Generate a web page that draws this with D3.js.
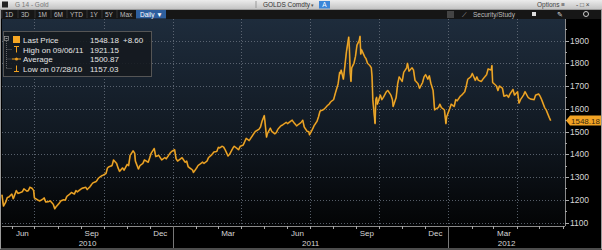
<!DOCTYPE html>
<html><head><meta charset="utf-8">
<script src="https://cdn.jsdelivr.net/npm/d3@7/dist/d3.min.js"></script>
<style>body{margin:0;background:#000;}svg{display:block;font-family:"Liberation Sans",Arial,sans-serif;}</style>
</head><body><svg id="c" width="602" height="250"></svg>
<script>
const dates = ["2010-05-19","2010-05-20","2010-05-21","2010-05-24","2010-05-26","2010-05-28","2010-06-01","2010-06-03","2010-06-07","2010-06-09","2010-06-11","2010-06-15","2010-06-17","2010-06-21","2010-06-23","2010-06-25","2010-06-28","2010-06-30","2010-07-01","2010-07-06","2010-07-08","2010-07-12","2010-07-14","2010-07-16","2010-07-20","2010-07-22","2010-07-26","2010-07-28","2010-07-30","2010-08-03","2010-08-05","2010-08-09","2010-08-11","2010-08-13","2010-08-17","2010-08-19","2010-08-23","2010-08-25","2010-08-27","2010-08-31","2010-09-02","2010-09-07","2010-09-09","2010-09-13","2010-09-15","2010-09-17","2010-09-21","2010-09-24","2010-09-28","2010-09-30","2010-10-04","2010-10-06","2010-10-08","2010-10-12","2010-10-14","2010-10-18","2010-10-20","2010-10-22","2010-10-26","2010-10-28","2010-11-01","2010-11-03","2010-11-05","2010-11-09","2010-11-11","2010-11-12","2010-11-16","2010-11-18","2010-11-22","2010-11-24","2010-11-29","2010-12-01","2010-12-03","2010-12-07","2010-12-09","2010-12-13","2010-12-15","2010-12-17","2010-12-21","2010-12-23","2010-12-28","2010-12-30",
"2011-01-03","2011-01-05","2011-01-07","2011-01-11","2011-01-13","2011-01-17","2011-01-19","2011-01-21","2011-01-25","2011-01-27","2011-01-28","2011-02-01","2011-02-03","2011-02-07","2011-02-09","2011-02-11","2011-02-15","2011-02-17","2011-02-22","2011-02-24","2011-02-28","2011-03-02","2011-03-04","2011-03-07","2011-03-09","2011-03-11","2011-03-15","2011-03-17","2011-03-21","2011-03-23","2011-03-25","2011-03-29","2011-03-31","2011-04-04","2011-04-06","2011-04-08","2011-04-12","2011-04-14","2011-04-18","2011-04-20","2011-04-25","2011-04-27","2011-04-29","2011-05-02","2011-05-03","2011-05-05","2011-05-06","2011-05-10","2011-05-12","2011-05-16","2011-05-18","2011-05-20","2011-05-24","2011-05-26","2011-05-31","2011-06-02","2011-06-06","2011-06-08","2011-06-10","2011-06-14","2011-06-16","2011-06-20","2011-06-22","2011-06-24","2011-06-28","2011-06-30","2011-07-01","2011-07-05","2011-07-07","2011-07-11","2011-07-13","2011-07-15","2011-07-19","2011-07-21","2011-07-25","2011-07-27","2011-07-29","2011-08-02","2011-08-04","2011-08-08","2011-08-10","2011-08-11","2011-08-12","2011-08-15","2011-08-17","2011-08-19","2011-08-22","2011-08-23","2011-08-24","2011-08-25","2011-08-26","2011-08-29","2011-08-31","2011-09-02","2011-09-05","2011-09-06","2011-09-07","2011-09-08","2011-09-12","2011-09-14","2011-09-16","2011-09-19","2011-09-21","2011-09-22","2011-09-23","2011-09-26","2011-09-27","2011-09-28","2011-09-29","2011-10-03","2011-10-05","2011-10-07","2011-10-11","2011-10-13","2011-10-17","2011-10-19","2011-10-20","2011-10-24","2011-10-26","2011-10-28","2011-11-01","2011-11-03","2011-11-07","2011-11-08","2011-11-10","2011-11-14","2011-11-16","2011-11-18","2011-11-22","2011-11-24","2011-11-28","2011-11-30","2011-12-02","2011-12-05","2011-12-07","2011-12-09","2011-12-12","2011-12-14","2011-12-16","2011-12-19","2011-12-21","2011-12-23","2011-12-27","2011-12-29","2011-12-30",
"2012-01-03","2012-01-05","2012-01-09","2012-01-11","2012-01-13","2012-01-17","2012-01-19","2012-01-23","2012-01-25","2012-01-27","2012-01-31","2012-02-02","2012-02-06","2012-02-08","2012-02-10","2012-02-14","2012-02-16","2012-02-21","2012-02-23","2012-02-27","2012-02-28","2012-02-29","2012-03-02","2012-03-05","2012-03-07","2012-03-09","2012-03-13","2012-03-15","2012-03-19","2012-03-21","2012-03-23","2012-03-27","2012-03-29","2012-04-02","2012-04-04","2012-04-06","2012-04-10","2012-04-12","2012-04-16","2012-04-18","2012-04-20","2012-04-24","2012-04-26","2012-04-30","2012-05-02","2012-05-04","2012-05-08","2012-05-10","2012-05-14","2012-05-16"];
const prices = [1222,1195,1172,1190,1210,1212,1225,1205,1240,1228,1230,1235,1248,1238,1240,1255,1250,1240,1208,1198,1195,1202,1208,1190,1192,1195,1180,1160,1170,1185,1195,1200,1198,1215,1225,1232,1225,1240,1235,1245,1250,1255,1245,1258,1268,1275,1280,1295,1305,1308,1315,1340,1345,1350,1375,1360,1340,1325,1340,1330,1355,1350,1395,1415,1405,1370,1335,1350,1360,1375,1365,1385,1405,1425,1390,1395,1385,1375,1385,1380,1405,1412,
1420,1380,1370,1380,1385,1365,1370,1345,1335,1330,1320,1338,1350,1360,1365,1360,1370,1385,1400,1410,1412,1430,1428,1435,1432,1420,1392,1400,1425,1435,1430,1420,1435,1440,1455,1470,1460,1470,1490,1500,1510,1520,1545,1570,1540,1475,1490,1515,1500,1490,1495,1510,1525,1528,1540,1535,1545,1550,1540,1525,1530,1540,1550,1520,1500,1500,1485,1510,1525,1545,1565,1590,1595,1600,1615,1620,1630,1640,1665,1710,1760,1755,1770,1730,1790,1850,1915,1860,1760,1720,1780,1800,1830,1880,1900,1918,1840,1860,1830,1820,1800,1790,1780,1740,1640,1535,1640,1650,1620,1660,1640,1650,1675,1680,1660,1640,1610,1650,1710,1740,1720,1760,1780,1800,1765,1780,1770,1725,1710,1690,1715,1740,1750,1730,1745,1712,1680,1595,1600,1605,1620,1605,1595,1535,1565,
1600,1620,1610,1640,1635,1655,1660,1675,1700,1730,1740,1755,1725,1740,1725,1720,1730,1750,1775,1770,1790,1715,1710,1700,1680,1700,1690,1655,1660,1650,1665,1685,1660,1675,1625,1640,1660,1675,1650,1645,1642,1640,1660,1665,1655,1640,1605,1595,1562,1548];
const yTicks = [1100,1200,1300,1400,1500,1600,1700,1800,1900];
const monthLabels = [["2010-06-15","Jun"],["2010-09-15","Sep"],["2010-12-15","Dec"],["2011-03-15","Mar"],["2011-06-15","Jun"],["2011-09-15","Sep"],["2011-12-15","Dec"],["2012-03-15","Mar"]];
const yearLabels = ["2010","2011","2012"];
const legendLabels = ["Last Price","High on 09/06/11","Average","Low on 07/28/10"];
const legendValues = ["1548.18","1921.15","1500.87","1157.03"];
const lastChange = "+8.60";
const toolbarButtons = ["1D","3D","1M","6M","YTD","1Y","5Y","Max"];

const svg = d3.select("#c");
const P = {l:2, r:565, t:19, b:226};
const parse = d3.timeParse("%Y-%m-%d");
const data = dates.map((d,i)=>({d:parse(d), v:prices[i]}));
const x = d3.scaleTime().domain([parse("2010-05-19"), parse("2012-06-04")]).range([P.l, P.r]);
const y = d3.scaleLinear().domain([1100,1900]).range([222.5,40.5]);

svg.append("rect").attr("width",602).attr("height",250).attr("fill","#000");
const defs = svg.append("defs");
const g1 = defs.append("linearGradient").attr("id","bg").attr("x1",0).attr("y1",0).attr("x2",0).attr("y2",1);
g1.append("stop").attr("offset","0%").attr("stop-color","#1e2c3c");
g1.append("stop").attr("offset","55%").attr("stop-color","#111922");
g1.append("stop").attr("offset","100%").attr("stop-color","#030405");
svg.append("rect").attr("x",P.l).attr("y",P.t).attr("width",P.r-P.l).attr("height",P.b-P.t).attr("fill","url(#bg)");

// title bar
const g2 = defs.append("linearGradient").attr("id","tb").attr("x1",0).attr("y1",0).attr("x2",0).attr("y2",1);
g2.append("stop").attr("offset","0%").attr("stop-color","#ececec");
g2.append("stop").attr("offset","100%").attr("stop-color","#c4c4c4");
svg.append("rect").attr("x",0).attr("y",0).attr("width",602).attr("height",9).attr("fill","url(#tb)");
svg.append("rect").attr("x",2).attr("y",1.5).attr("width",6).attr("height",6).attr("fill","#222");
svg.append("text").attr("x",15).attr("y",7.3).attr("font-size",6.5).attr("fill","#777").text("G 14 - Gold");
svg.append("line").attr("x1",256).attr("x2",256).attr("y1",1).attr("y2",8).attr("stroke","#999");
svg.append("text").attr("x",263).attr("y",7.3).attr("font-size",6.5).attr("fill","#333").text("GOLDS Comdty");
svg.append("text").attr("x",311).attr("y",7.3).attr("font-size",5).attr("fill","#555").text("▾");
svg.append("rect").attr("x",319).attr("y",1).attr("width",11).attr("height",7.5).attr("fill","#3c86d8");
svg.append("text").attr("x",324.5).attr("y",7.3).attr("font-size",6.5).attr("fill","#fff").attr("text-anchor","middle").text("A");
svg.append("text").attr("x",537).attr("y",7.3).attr("font-size",6.5).attr("fill","#444").text("Options ≡");
svg.append("text").attr("x",576).attr("y",7.3).attr("font-size",6.5).attr("fill","#444").text("-  □  ×");

// toolbar
svg.append("rect").attr("x",0).attr("y",9).attr("width",602).attr("height",10).attr("fill","#161616");
const bx = [5,21,38,54,70,90,105,120];
toolbarButtons.forEach((b,i)=>{
  svg.append("text").attr("x",bx[i]).attr("y",17).attr("font-size",6.5).attr("fill","#bdbdbd").text(b);
  svg.append("line").attr("x1",bx[i]-3).attr("x2",bx[i]-3).attr("y1",10).attr("y2",18).attr("stroke","#333");
});
svg.append("rect").attr("x",136).attr("y",10).attr("width",30).attr("height",8.5).attr("fill","#2e5f9e");
svg.append("text").attr("x",140).attr("y",17).attr("font-size",6.5).attr("fill","#fff").text("Daily ▼");
svg.append("rect").attr("x",447).attr("y",11).attr("width",7).attr("height",7).attr("fill","#444");
svg.append("text").attr("x",462).attr("y",17).attr("font-size",6.5).attr("fill","#bbb").text("⟋");
svg.append("text").attr("x",473).attr("y",17).attr("font-size",6.5).attr("fill","#bdbdbd").text("Security/Study");
svg.append("rect").attr("x",532).attr("y",12).attr("width",4).attr("height",4).attr("fill","#ddd");
svg.append("text").attr("x",557).attr("y",17).attr("font-size",6.5).attr("fill","#ddd").text("✎");
svg.append("circle").attr("cx",586).attr("cy",14).attr("r",2.5).attr("fill","none").attr("stroke","#ccc");

// gridlines
const grid = svg.append("g").attr("stroke","#6b7480").attr("stroke-width",0.8).attr("stroke-dasharray","1,2");
yTicks.forEach(t=>grid.append("line").attr("x1",P.l).attr("x2",P.r).attr("y1",Math.round(y(t))+0.5).attr("y2",Math.round(y(t))+0.5));
const quarters = d3.timeMonth.range(x.domain()[0], x.domain()[1]).filter(d=>d.getMonth()%3===0);
quarters.forEach(q=>grid.append("line").attr("x1",Math.round(x(q))+0.5).attr("x2",Math.round(x(q))+0.5).attr("y1",P.t).attr("y2",P.b));

// line
const line = d3.line().x(d=>x(d.d)).y(d=>y(d.v));
svg.append("path").datum(data).attr("d",line).attr("fill","none").attr("stroke","#c07a10").attr("stroke-width",1.7).attr("stroke-linejoin","round");
svg.append("path").datum(data).attr("d",line).attr("fill","none").attr("stroke","#f7ba3a").attr("stroke-width",0.8).attr("stroke-linejoin","round");

// axes
svg.append("line").attr("x1",P.l).attr("x2",P.r).attr("y1",P.b+0.5).attr("y2",P.b+0.5).attr("stroke","#8a8a8a");
svg.append("line").attr("x1",P.r+0.5).attr("x2",P.r+0.5).attr("y1",P.t).attr("y2",P.b).attr("stroke","#8a8a8a");
const ya = svg.append("g");
d3.range(1100,1951,50).forEach(t=>{
  const yy = Math.round(y(t))+0.5;
  ya.append("line").attr("x1",P.r).attr("x2",P.r+(t%100===0?4:2)).attr("y1",yy).attr("y2",yy).attr("stroke","#aaa");
});
yTicks.forEach(t=>ya.append("text").attr("x",P.r+5).attr("y",y(t)+3).attr("font-size",8.5).attr("fill","#d6d6d6").text(t));
d3.timeMonth.range(x.domain()[0], x.domain()[1]).forEach(m=>{
  svg.append("line").attr("x1",Math.round(x(m))+0.5).attr("x2",Math.round(x(m))+0.5).attr("y1",P.b).attr("y2",P.b+3).attr("stroke","#aaa");
});
monthLabels.forEach(([d,l])=>svg.append("text").attr("x",x(parse(d))).attr("y",236).attr("font-size",8).attr("fill","#d6d6d6").attr("text-anchor","middle").text(l));
const yb = [x.domain()[0], parse("2011-01-01"), parse("2012-01-01"), x.domain()[1]];
yearLabels.forEach((l,i)=>{
  svg.append("text").attr("x",(x(yb[i])+x(yb[i+1]))/2).attr("y",246).attr("font-size",8).attr("fill","#d6d6d6").attr("text-anchor","middle").text(l);
});
[yb[1],yb[2]].forEach(d=>svg.append("line").attr("x1",Math.round(x(d))+0.5).attr("x2",Math.round(x(d))+0.5).attr("y1",P.b).attr("y2",248).attr("stroke","#777"));

// last price tag
const lv = y(prices[prices.length-1]);
svg.append("path").attr("d",`M${P.r+1},${lv} L${P.r+5},${lv-5} L601,${lv-5} L601,${lv+5} L${P.r+5},${lv+5} Z`).attr("fill","#f2a324");
svg.append("text").attr("x",P.r+6).attr("y",lv+3).attr("font-size",8).attr("fill","#3a2a10").text(legendValues[0]);

// legend
svg.append("rect").attr("x",3.5).attr("y",31.5).attr("width",148).attr("height",45).attr("fill","#15191f").attr("fill-opacity",0.9).attr("stroke","#555");
const ly = [40,49.5,59,68.5];
svg.append("rect").attr("x",4.5).attr("y",36.5).attr("width",4).attr("height",4).attr("fill","none").attr("stroke","#999").attr("stroke-width",0.7);
svg.append("line").attr("x1",5.5).attr("x2",7.5).attr("y1",38.5).attr("y2",38.5).attr("stroke","#ccc").attr("stroke-width",0.7);
svg.append("line").attr("x1",6.5).attr("x2",6.5).attr("y1",41).attr("y2",ly[3]).attr("stroke","#888").attr("stroke-width",0.7).attr("stroke-dasharray","1,1");
svg.append("rect").attr("x",13).attr("y",36).attr("width",7).attr("height",7).attr("fill","#f6a623");
const ic = "#f0a020";
ly.slice(1).forEach(yy=>svg.append("line").attr("x1",6.5).attr("x2",12).attr("y1",yy).attr("y2",yy).attr("stroke","#888").attr("stroke-width",0.7).attr("stroke-dasharray","1,1"));
svg.append("line").attr("x1",14).attr("x2",19).attr("y1",ly[1]-3).attr("y2",ly[1]-3).attr("stroke",ic);
svg.append("line").attr("x1",16.5).attr("x2",16.5).attr("y1",ly[1]-3).attr("y2",ly[1]+3).attr("stroke",ic);
svg.append("line").attr("x1",12).attr("x2",21).attr("y1",ly[2]).attr("y2",ly[2]).attr("stroke",ic);
svg.append("circle").attr("cx",16.5).attr("cy",ly[2]).attr("r",1.5).attr("fill",ic);
svg.append("line").attr("x1",14).attr("x2",19).attr("y1",ly[3]+3).attr("y2",ly[3]+3).attr("stroke",ic);
svg.append("line").attr("x1",16.5).attr("x2",16.5).attr("y1",ly[3]-3).attr("y2",ly[3]+3).attr("stroke",ic);
legendLabels.forEach((l,i)=>{
  svg.append("text").attr("x",23).attr("y",ly[i]+3).attr("font-size",8).attr("fill","#e4e4e4").text(l);
  svg.append("text").attr("x",90).attr("y",ly[i]+3).attr("font-size",8).attr("fill","#e4e4e4").text(legendValues[i]);
});
svg.append("text").attr("x",123).attr("y",ly[0]+3).attr("font-size",8).attr("fill","#e4e4e4").text(lastChange);

svg.append("rect").attr("x",0.5).attr("y",9.5).attr("width",601).attr("height",239.5).attr("fill","none").attr("stroke","#9a9a9a");
</script></body></html>
